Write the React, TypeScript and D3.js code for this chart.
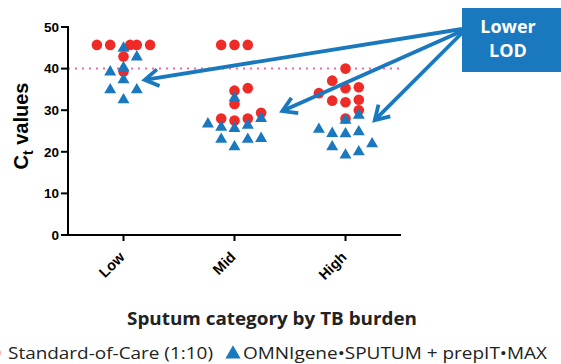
import React from "react";
import * as d3 from "d3";

const width = 561;
const height = 364;
const margin = { top: 27, right: 160, bottom: 129, left: 68 };

const categories = ["Low", "Mid", "High"];
const yTicks = [0, 10, 20, 30, 40, 50];
const lodValue = 40;

// Ct values per category; "slot" is the horizontal column of the dot in the scatter
const socValues = {
  Low: [45.7, 45.7, 45.7, 45.7, 45.7, 42.9, 39.3],
  Mid: [45.7, 45.7, 45.7, 34.7, 35.3, 31.5, 28.0, 27.5, 28.0, 29.4],
  High: [40.0, 37.1, 34.1, 35.3, 35.5, 32.3, 31.9, 32.5, 30.0, 28.0],
};
const socSlots = {
  Low: [-2, -1, 0.5, 1, 2, 0, 0],
  Mid: [-1, 0, 1, 0, 1, 0, -1, 0, 1, 2],
  High: [0, -1, -2, 0, 1, -1, 0, 1, 1, 0],
};
const omniValues = {
  Low: [44.9, 42.8, 39.2, 40.2, 37.3, 34.9, 34.9, 32.5],
  Mid: [32.9, 26.7, 25.9, 25.6, 26.4, 28.0, 23.0, 23.0, 23.2, 21.2],
  High: [27.6, 28.8, 25.4, 24.4, 24.3, 24.8, 21.2, 19.2, 20.0, 21.9],
};
const omniSlots = {
  Low: [0, 1, -1, 0, 0, -1, 1, 0],
  Mid: [0, -2, -1, 0, 1, 2, -1, 1, 2, 0],
  High: [0, 1, -2, -1, 0, 1, -1, 0, 1, 2],
};

// arrows from the "Lower LOD" box, aimed near each group (slot offset, Ct value)
const arrowTargets = [
  { cat: "Low", slot: 1.6, value: 37.3 },
  { cat: "Mid", slot: 3.6, value: 29.8 },
  { cat: "High", slot: 2.2, value: 27.6 },
];

const red = "#ee2b27";
const blue = "#1a78bf";

const App = () => {
  const x0 = margin.left;
  const x1 = width - margin.right;
  const x = d3.scalePoint().domain(categories).range([x0, x1]).padding(0.5);
  const y = d3.scaleLinear().domain([0, 50]).range([height - margin.bottom, margin.top]);
  const slot = d3.scaleLinear().domain([-1, 1]).range([-13.3, 13.3]);
  const y0 = y(0);

  const soc = categories.flatMap((c) =>
    socValues[c].map((v, i) => ({ cx: x(c) + slot(socSlots[c][i]), cy: y(v) }))
  );
  const omni = categories.flatMap((c) =>
    omniValues[c].map((v, i) => ({ cx: x(c) + slot(omniSlots[c][i]), cy: y(v) }))
  );

  const tri = d3.symbol().type(d3.symbolTriangle).size(62);

  const box = { x: 462, y: 8, w: 110, h: 64 };
  const arrows = arrowTargets.map((t, i) => {
    const sx = box.x;
    const sy = 29 + i * 2;
    const tx = x(t.cat) + slot(t.slot);
    const ty = y(t.value);
    const ang = Math.atan2(sy - ty, sx - tx);
    const len = 16;
    const spread = 0.55;
    const a1 = [tx + len * Math.cos(ang + spread), ty + len * Math.sin(ang + spread)];
    const a2 = [tx + len * Math.cos(ang - spread), ty + len * Math.sin(ang - spread)];
    return { sx, sy, tx, ty, head: `M${a1[0]},${a1[1]}L${tx},${ty}L${a2[0]},${a2[1]}` };
  });

  const tickFont = { fontFamily: "Liberation Sans, Arial, sans-serif", fontWeight: 700, fontSize: 13.5 };

  return (
    <svg width={width} height={height} style={{ position: "absolute", left: 0, top: 0 }}>
      <rect width={width} height={height} fill="#fff" />

      {/* LOD reference line */}
      <line
        x1={x0}
        x2={x1}
        y1={y(lodValue)}
        y2={y(lodValue)}
        stroke="#ec6aab"
        strokeWidth={2}
        strokeDasharray="2,5"
      />

      {/* y axis */}
      <line x1={x0} x2={x0} y1={y(50) - 1} y2={y0 + 1} stroke="#000" strokeWidth={2} />
      {yTicks.map((t) => (
        <g key={t}>
          <line x1={x0 - 7} x2={x0} y1={y(t)} y2={y(t)} stroke="#000" strokeWidth={2} />
          <text x={x0 - 9} y={y(t)} dy="0.36em" textAnchor="end" {...tickFont}>
            {t}
          </text>
        </g>
      ))}

      {/* x axis */}
      <line x1={x0 - 1} x2={x1} y1={y0} y2={y0} stroke="#000" strokeWidth={2} />
      {categories.map((c) => (
        <g key={c}>
          <line x1={x(c)} x2={x(c)} y1={y0} y2={y0 + 6} stroke="#000" strokeWidth={2} />
          <text
            transform={`translate(${x(c) + 2},${y0 + 23}) rotate(-45)`}
            textAnchor="end"
            {...tickFont}
            fontSize={14.5}
          >
            {c}
          </text>
        </g>
      ))}

      <text
        transform={`translate(28,${(y(50) + y0) / 2 - 5}) rotate(-90)`}
        textAnchor="middle"
        fontFamily="Liberation Sans, Arial, sans-serif"
        fontWeight={700}
        fontSize={20}
      >
        C
        <tspan fontSize={14} dy={5}>
          t
        </tspan>
        <tspan dy={-5}> values</tspan>
      </text>

      {/* points */}
      {soc.map((p, i) => (
        <circle key={`s${i}`} cx={p.cx} cy={p.cy} r={5.3} fill={red} />
      ))}
      {omni.map((p, i) => (
        <path key={`o${i}`} d={tri()} transform={`translate(${p.cx},${p.cy})`} fill={blue} />
      ))}

      {/* annotation */}
      {arrows.map((a, i) => (
        <g key={i} stroke={blue} strokeWidth={3.8} fill="none">
          <line x1={a.sx} y1={a.sy} x2={a.tx} y2={a.ty} />
          <path d={a.head} strokeLinejoin="miter" />
        </g>
      ))}
      <rect x={box.x} y={box.y} width={box.w} height={box.h} fill="#1a78bf" />
      <text
        fill="#fff"
        textAnchor="middle"
        fontFamily="Open Sans, sans-serif"
        fontWeight={700}
        fontSize={18}
      >
        <tspan x={box.x + 46} y={33}>
          Lower
        </tspan>
        <tspan x={box.x + 46} y={57}>
          LOD
        </tspan>
      </text>

      <text
        x={127}
        y={325}
        fontFamily="Open Sans, sans-serif"
        fontWeight={700}
        fontSize={17}
        fill="#222"
        textLength={290}
        lengthAdjust="spacingAndGlyphs"
      >
        Sputum category by TB burden
      </text>

      {/* legend */}
      <circle cx={-4.5} cy={353} r={5.3} fill={red} opacity={0.5} />
      <text
        x={8}
        y={359}
        fontFamily="Open Sans, sans-serif"
        fontSize={17}
        fill="#222"
        textLength={205}
        lengthAdjust="spacingAndGlyphs"
      >
        Standard-of-Care (1:10)
      </text>
      <path
        d={d3.symbol().type(d3.symbolTriangle).size(100)()}
        transform="translate(233,354)"
        fill={blue}
      />
      <text
        x={243}
        y={359}
        fontFamily="Open Sans, sans-serif"
        fontSize={17}
        fill="#222"
        textLength={304}
        lengthAdjust="spacingAndGlyphs"
      >
        OMNIgene•SPUTUM + prepIT•MAX
      </text>
    </svg>
  );
};

export default App;
